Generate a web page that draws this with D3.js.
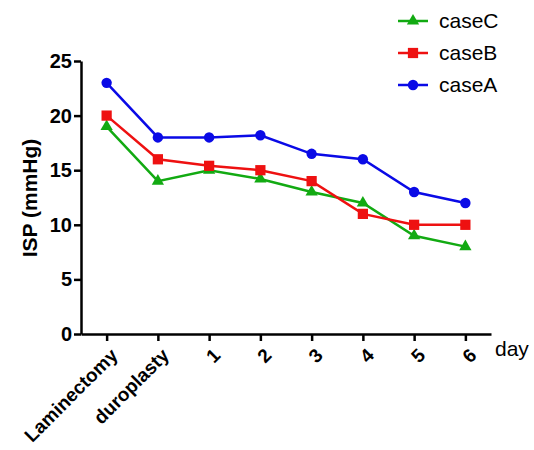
<!DOCTYPE html>
<html>
<head>
<meta charset="utf-8">
<script src="https://cdn.jsdelivr.net/npm/d3@7"></script>
<style>
  body { margin: 0; background: #fff; }
  text { font-family: "Liberation Sans", Arial, sans-serif; }
</style>
</head>
<body>
<svg id="chart"></svg>
<script>
// data
var categories = ["Laminectomy", "duroplasty", "1", "2", "3", "4", "5", "6"];
var caseA = [23, 18, 18, 18.2, 16.5, 16, 13, 12];
var caseB = [20, 16, 15.4, 15, 14, 11, 10, 10];
var caseC = [19, 14, 15, 14.2, 13, 12, 9, 8];
var yTicks = [0, 5, 10, 15, 20, 25];

var screen = {width: 534, height: 450};
var margins = {top: 61, right: 43, bottom: 116, left: 81};
var width = screen.width - margins.left - margins.right;
var height = screen.height - margins.top - margins.bottom;

var svg = d3.select("#chart")
    .attr("width", screen.width)
    .attr("height", screen.height);

var xScale = d3.scalePoint()
    .domain(categories)
    .range([0, width])
    .padding(0.5);

var yScale = d3.scaleLinear()
    .domain([0, 25])
    .range([height, 0]);

var g = svg.append("g")
    .attr("transform", "translate(" + margins.left + "," + margins.top + ")");

// axes
var xAxis = g.append("g")
    .attr("transform", "translate(0," + height + ")")
    .call(d3.axisBottom(xScale).tickSize(7).tickSizeOuter(0));
xAxis.selectAll("text")
    .attr("font-size", 19)
    .attr("font-weight", "bold")
    .attr("fill", "#000")
    .style("text-anchor", "end")
    .attr("dx", "-0.4em")
    .attr("dy", "0.75em")
    .attr("transform", "rotate(-45)");

var yAxis = g.append("g")
    .call(d3.axisLeft(yScale).tickValues(yTicks).tickSize(7).tickSizeOuter(0));
yAxis.selectAll("text")
    .attr("font-size", 20)
    .attr("font-weight", "bold")
    .attr("fill", "#000")
    .attr("x", -9);

g.selectAll(".domain, .tick line")
    .attr("stroke", "#000")
    .attr("stroke-width", 2.5);

// axis titles
svg.append("text")
    .attr("transform", "translate(37,198) rotate(-90)")
    .attr("text-anchor", "middle")
    .attr("font-size", 21)
    .attr("font-weight", "bold")
    .text("ISP (mmHg)");

svg.append("text")
    .attr("x", margins.left + width + 4)
    .attr("y", margins.top + height + 22)
    .attr("font-size", 21)
    .text("day");

// series
var series = [
    {name: "caseA", values: caseA, color: "#0a0ae6", shape: d3.symbolCircle, size: 85},
    {name: "caseB", values: caseB, color: "#ee1111", shape: d3.symbolSquare, size: 105},
    {name: "caseC", values: caseC, color: "#12aa12", shape: d3.symbolTriangle, size: 65}
];

var line = d3.line()
    .x(function(d, i) { return xScale(categories[i]); })
    .y(function(d) { return yScale(d); });

var drawOrder = [series[0], series[2], series[1]];
drawOrder.forEach(function(s) {
    var sg = g.append("g");
    sg.append("path")
        .attr("d", line(s.values))
        .attr("fill", "none")
        .attr("stroke", s.color)
        .attr("stroke-width", 2.5);
    sg.selectAll("path.pt")
        .data(s.values)
        .enter()
        .append("path")
        .attr("class", "pt")
        .attr("d", d3.symbol().type(s.shape).size(s.size))
        .attr("fill", s.color)
        .attr("transform", function(d, i) {
            return "translate(" + xScale(categories[i]) + "," + yScale(d) + ")";
        });
});

// legend
var legendItems = [series[2], series[1], series[0]];
var legend = svg.append("g")
    .attr("transform", "translate(398,21)");
var items = legend.selectAll("g")
    .data(legendItems)
    .enter()
    .append("g")
    .attr("transform", function(d, i) { return "translate(0," + (i * 32) + ")"; });
items.append("line")
    .attr("x1", 0).attr("x2", 30)
    .attr("stroke", function(d) { return d.color; })
    .attr("stroke-width", 2.5);
items.append("path")
    .attr("d", function(d) { return d3.symbol().type(d.shape).size(d.size)(); })
    .attr("transform", "translate(15,0)")
    .attr("fill", function(d) { return d.color; });
items.append("text")
    .text(function(d) { return d.name; })
    .attr("x", 41)
    .attr("y", 7)
    .attr("font-size", 21)
    .attr("fill", "#000");
</script>
</body>
</html>
